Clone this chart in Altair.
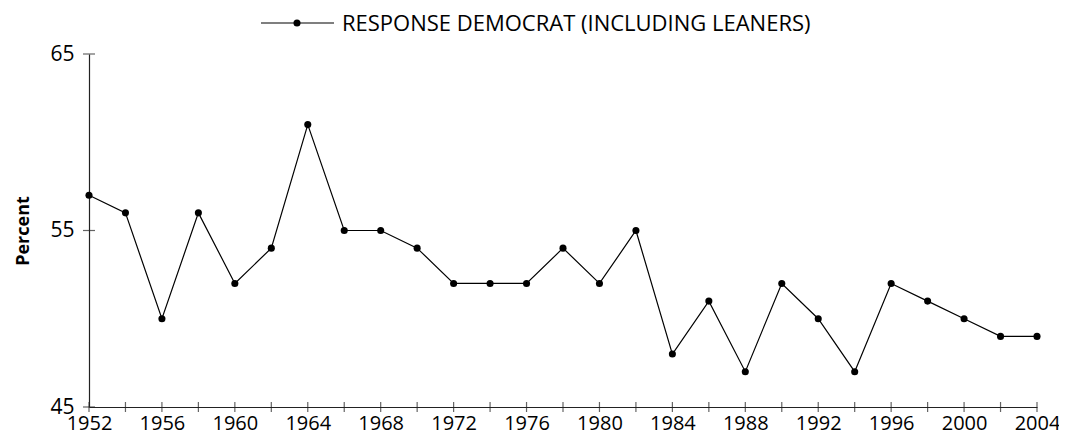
import altair as alt
import pandas as pd

years = [1952, 1954, 1956, 1958, 1960, 1962, 1964, 1966, 1968, 1970, 1972, 1974, 1976, 1978,
         1980, 1982, 1984, 1986, 1988, 1990, 1992, 1994, 1996, 1998, 2000, 2002, 2004]
percent = [57, 56, 50, 56, 52, 54, 61, 55, 55, 54, 52, 52, 52, 54,
           52, 55, 48, 51, 47, 52, 50, 47, 52, 51, 50, 49, 49]
x_label_years = list(range(1952, 2005, 4))
x_tick_years = list(range(1952, 2005, 2))
y_ticks = [45, 55, 65]
series_name = "RESPONSE DEMOCRAT (INCLUDING LEANERS)"

FONT = "Open Sans"
AX = "#222222"
df = pd.DataFrame({"year": years, "pct": percent})
xt = pd.DataFrame({"year": x_tick_years, "pct": [45] * len(x_tick_years)})
yt = pd.DataFrame({"year": [1952] * len(y_ticks), "pct": y_ticks})

W, H = 948, 353
xs = alt.Scale(domain=[1952, 2004], nice=False, zero=False)
ys = alt.Scale(domain=[45, 65], nice=False, zero=False)

x_enc = alt.X("year:Q", scale=xs, axis=alt.Axis(
    values=x_label_years, format="d", title=None, ticks=False, grid=False,
    domainColor=AX, domainWidth=1.2, labelFont=FONT, labelFontSize=20,
    labelColor="black", labelPadding=6, labelFlush=False))
y_enc = alt.Y("pct:Q", scale=ys, axis=alt.Axis(
    values=y_ticks, title="Percent", ticks=False, grid=False,
    domainColor=AX, domainWidth=1.2, labelFont=FONT, labelFontSize=21,
    labelColor="black", labelPadding=15, titleFont=FONT, titleFontSize=18,
    titleFontWeight="bold", titleColor="black", titlePadding=17))

line = alt.Chart(df).mark_line(color="black", strokeWidth=1.2).encode(x=x_enc, y=y_enc)
pts = alt.Chart(df).mark_point(filled=True, color="black", size=50, opacity=1).encode(
    x=alt.X("year:Q", scale=xs), y=alt.Y("pct:Q", scale=ys))
xticks = alt.Chart(xt).mark_tick(color=AX, orient="vertical", size=10, thickness=1.2).encode(
    x=alt.X("year:Q", scale=xs), y=alt.Y("pct:Q", scale=ys))
yticks = alt.Chart(yt).mark_tick(color=AX, orient="horizontal", size=12, thickness=1.2).encode(
    x=alt.X("year:Q", scale=xs), y=alt.Y("pct:Q", scale=ys))

leg_df = pd.DataFrame({"name": [series_name]})
leg_line = alt.Chart(leg_df).mark_rule(color="black", strokeWidth=1.2).encode(
    x=alt.value(172), x2=alt.value(245), y=alt.value(-31))
leg_pt = alt.Chart(leg_df).mark_point(filled=True, color="black", size=50, opacity=1).encode(
    x=alt.value(208), y=alt.value(-31))
leg_txt = alt.Chart(leg_df).mark_text(font=FONT, fontSize=22, align="left", baseline="middle",
                                       color="black").encode(
    x=alt.value(253), y=alt.value(-30), text="name:N")

chart = alt.layer(line, xticks, yticks, pts, leg_line, leg_pt, leg_txt).properties(
    width=W, height=H,
    autosize=alt.AutoSizeParams(type="none"),
    padding={"left": 81, "top": 46, "right": 22, "bottom": 28},
).configure(background="white").configure_view(stroke=None)

chart.save("out.html", embed_options={"renderer": "svg", "actions": False})
